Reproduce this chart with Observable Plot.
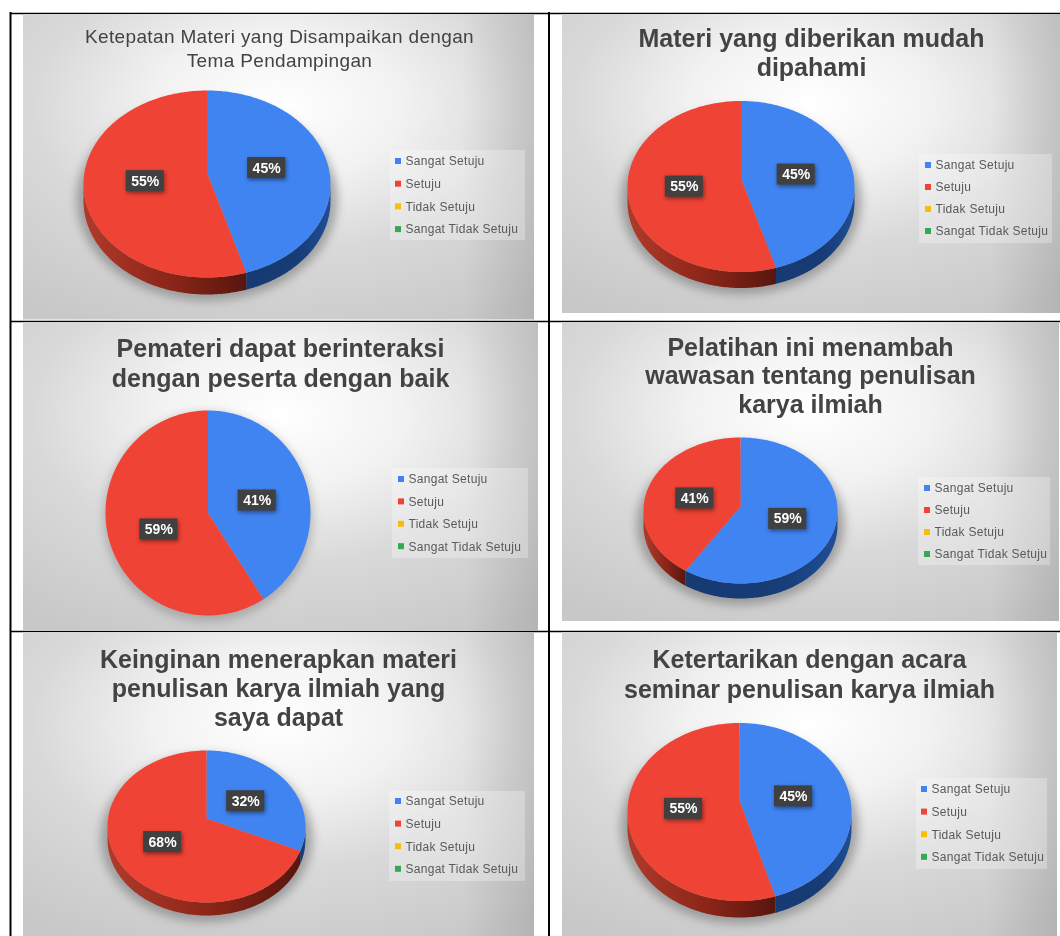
<!DOCTYPE html>
<html>
<head>
<meta charset="utf-8">
<script src="https://cdn.jsdelivr.net/npm/d3@7"></script>
<script src="https://cdn.jsdelivr.net/npm/@observablehq/plot@0.6"></script>
<style>
html,body{margin:0;padding:0;background:#fff}
svg{display:block}
</style>
</head>
<body>
<div id="chart"></div>
<script>
// ---- data ----
const seriesNames = ["Sangat Setuju", "Setuju", "Tidak Setuju", "Sangat Tidak Setuju"];
const titles = [
  "Ketepatan Materi yang Disampaikan dengan\nTema Pendampingan",
  "Materi yang diberikan mudah\ndipahami",
  "Pemateri dapat berinteraksi\ndengan peserta dengan baik",
  "Pelatihan ini menambah\nwawasan tentang penulisan\nkarya ilmiah",
  "Keinginan menerapkan materi\npenulisan karya ilmiah yang\nsaya dapat",
  "Ketertarikan dengan acara\nseminar penulisan karya ilmiah"
];
const sangatSetuju      = [45.45, 45.45, 40.9, 59.1, 31.8, 45.45];
const setuju            = [54.55, 54.55, 59.1, 40.9, 68.2, 54.55];
const tidakSetuju       = [0, 0, 0, 0, 0, 0];
const sangatTidakSetuju = [0, 0, 0, 0, 0, 0];
const seriesValues = [sangatSetuju, setuju, tidakSetuju, sangatTidakSetuju];

// ---- layout and style ----
const seriesColors = ["#4084f2", "#ef4335", "#fbbc04", "#34a853"];
const sideFills = ["url(#sideBlue)", "url(#sideRed)", "url(#sideYellow)", "url(#sideGreen)"];
const panelBoxes = [
  {x1: 23,  x2: 534,  y1: 14,  y2: 319.5},
  {x1: 562, x2: 1060, y1: 14,  y2: 313},
  {x1: 23,  x2: 538,  y1: 322, y2: 631},
  {x1: 562, x2: 1059, y1: 322, y2: 621},
  {x1: 23,  x2: 534,  y1: 632, y2: 936},
  {x1: 562, x2: 1057, y1: 632, y2: 936}
];
const pieLayout = [
  {cx: 206.5, cy: 183.5, rx: 123.5, ry: 93.5,  apexY: 172,   depth: 17},
  {cx: 740.5, cy: 186,   rx: 113.5, ry: 85.5,  apexY: 178,   depth: 16},
  {cx: 207.5, cy: 512.5, rx: 102.5, ry: 102.5, apexY: 512.5, depth: 0},
  {cx: 740,   cy: 510,   rx: 97,    ry: 73,    apexY: 506,   depth: 15},
  {cx: 206,   cy: 826,   rx: 99,    ry: 76,    apexY: 818,   depth: 13},
  {cx: 739,   cy: 811.5, rx: 112,   ry: 89,    apexY: 800,   depth: 16.5}
];
const titleLayout = [
  {x: 279, y0: 36,  step: 24,   size: 19, weight: 400, spacing: 0.35},
  {x: 811, y0: 38,  step: 29,   size: 25, weight: 700, spacing: 0},
  {x: 280, y0: 348, step: 30,   size: 25, weight: 700, spacing: 0},
  {x: 810, y0: 347, step: 28.5, size: 25, weight: 700, spacing: 0},
  {x: 278, y0: 659, step: 29,   size: 25, weight: 700, spacing: 0},
  {x: 809, y0: 659, step: 30,   size: 25, weight: 700, spacing: 0}
];
const legendLayout = [
  {x1: 390, x2: 525,  y1: 150, y2: 240, swatch: 395, text: 405, y0: 161, step: 22.7},
  {x1: 919, x2: 1052, y1: 154, y2: 243, swatch: 925, text: 935, y0: 165, step: 22},
  {x1: 392, x2: 528,  y1: 468, y2: 558, swatch: 398, text: 408, y0: 479, step: 22.4},
  {x1: 918, x2: 1050, y1: 477, y2: 565, swatch: 924, text: 934, y0: 488, step: 22},
  {x1: 389, x2: 525,  y1: 791, y2: 881, swatch: 395, text: 405, y0: 801, step: 22.6},
  {x1: 916, x2: 1047, y1: 778, y2: 869, swatch: 921, text: 931, y0: 789, step: 22.6}
];
const gridH = [{y: 13}, {y: 321}, {y: 631}];
const gridV = [{x: 10}, {x: 548.5}];

// ---- geometry derived from the values ----
const rad = Math.PI / 180;
const perspective = p => {
  const k = (p.cy - p.apexY) / p.ry;
  return Math.tan(Math.acos(k) / 2);
};
const toPhi = (deg, m) => {
  if (deg >= 360) return 360;
  if (deg > 180) return 360 - toPhi(360 - deg, m);
  if (deg === 180) return 180;
  return 2 * Math.atan(m * Math.tan(deg * rad / 2)) / rad;
};
const rimAt = (p, phi, drop = 0) => ({
  x: p.cx + p.rx * Math.sin(phi * rad),
  y: p.cy - p.ry * Math.cos(phi * rad) + drop
});

const faces = [], sides = [], shadows = [], labels = [];
pieLayout.forEach((p, pi) => {
  const m = perspective(p);
  const shadow = d3.range(0, 361, 3).map(a => ({
    panel: pi,
    opacity: p.depth ? 0.55 : 0.4,
    x: p.cx + (p.rx + (p.depth ? 7 : 2)) * Math.sin(a * rad),
    y: p.cy + (p.depth ? p.depth * 0.9 : 4) - (p.ry + (p.depth ? 8 : 2)) * Math.cos(a * rad)
  }));
  shadows.push(...shadow);
  let acc = 0;
  seriesNames.forEach((name, si) => {
    const value = seriesValues[si][pi];
    if (!value) return;
    const t0 = acc * 3.6, t1 = (acc + value) * 3.6;
    acc += value;
    const id = `${pi}-${si}`;
    faces.push({id, series: name, x: p.cx, y: p.apexY});
    d3.range(t0, t1, 1).concat(t1).forEach(t => {
      faces.push({id, series: name, ...rimAt(p, toPhi(t, m))});
    });
    const lo = Math.max(toPhi(t0, m), 90), hi = Math.min(toPhi(t1, m), 270);
    if (p.depth && hi > lo) {
      const arc = d3.range(lo, hi, 1).concat(hi);
      arc.forEach(a => sides.push({id, fill: sideFills[si], ...rimAt(p, a)}));
      arc.slice().reverse().forEach(a => sides.push({id, fill: sideFills[si], ...rimAt(p, a, p.depth)}));
    }
    const mid = rimAt(p, toPhi((t0 + t1) / 2, m));
    labels.push({
      text: `${Math.round(value)}%`,
      x: p.cx + (mid.x - p.cx) * 0.5,
      y: p.apexY + (mid.y - p.apexY) * 0.5 + 2
    });
  });
});

const titleRows = titles.flatMap((t, i) => t.split("\n").map((line, j) => ({
  line, panel: i, x: titleLayout[i].x, y: titleLayout[i].y0 + j * titleLayout[i].step
})));
const legendRows = legendLayout.flatMap((l, i) => seriesNames.map((name, j) => ({
  name, panel: i, swatch: l.swatch, text: l.text, y: l.y0 + j * l.step
})));

const spaced = px => (index, scales, values, dimensions, context, next) => {
  const g = next(index, scales, values, dimensions, context);
  g.style.letterSpacing = `${px}px`;
  return g;
};

const gradients = () => {
  const g = document.createElementNS("http://www.w3.org/2000/svg", "g");
  g.innerHTML = `<defs>
    <radialGradient id="panelBg" cx="0.5" cy="0.3" r="0.8">
      <stop offset="0" stop-color="#ffffff"/>
      <stop offset="0.3" stop-color="#f2f2f2"/>
      <stop offset="0.6" stop-color="#d9d9d9"/>
      <stop offset="1" stop-color="#c8c8c8"/>
    </radialGradient>
    <linearGradient id="panelEdge" x1="0" x2="1" y1="0" y2="0">
      <stop offset="0.86" stop-color="#000" stop-opacity="0"/>
      <stop offset="1" stop-color="#000" stop-opacity="0.1"/>
    </linearGradient>
    <linearGradient id="sideRed" x1="0" x2="1" y1="0" y2="0">
      <stop offset="0" stop-color="#b03a2a"/><stop offset="0.55" stop-color="#8a2518"/><stop offset="1" stop-color="#58160e"/>
    </linearGradient>
    <linearGradient id="sideBlue" x1="0" x2="1" y1="0" y2="0">
      <stop offset="0" stop-color="#163a72"/><stop offset="0.6" stop-color="#173c76"/><stop offset="1" stop-color="#1f4e96"/>
    </linearGradient>
    <linearGradient id="sideYellow"><stop offset="0" stop-color="#a87e02"/></linearGradient>
    <linearGradient id="sideGreen"><stop offset="0" stop-color="#226f37"/></linearGradient>
  </defs>`;
  return g;
};

const softText = "blur(0.3px)";

const chart = Plot.plot({
  width: 1060,
  height: 936,
  margin: 0,
  style: {fontFamily: "'Liberation Sans', Arial, sans-serif", background: "#fff"},
  x: {domain: [0, 1060], range: [0, 1060], axis: null},
  y: {domain: [0, 936], range: [0, 936], axis: null},
  color: {domain: seriesNames, range: seriesColors},
  marks: [
    gradients,
    Plot.ruleY(gridH, {y: "y", x1: 10, x2: 1060, stroke: "#000", strokeWidth: 1.6}),
    Plot.ruleX(gridV, {x: "x", y1: 12, y2: 936, stroke: "#000", strokeWidth: 2}),
    Plot.rect(panelBoxes, {x1: "x1", x2: "x2", y1: "y1", y2: "y2", fill: "url(#panelBg)"}),
    Plot.rect(panelBoxes, {x1: "x1", x2: "x2", y1: "y1", y2: "y2", fill: "url(#panelEdge)"}),
    Plot.line(shadows, {x: "x", y: "y", z: "panel", fill: "#6f6f6f", stroke: "none", fillOpacity: "opacity", imageFilter: "blur(5px)"}),
    Plot.line(sides, {x: "x", y: "y", z: "id", fill: {value: d => d.fill, scale: null}, stroke: "none"}),
    Plot.line(faces, {x: "x", y: "y", z: "id", fill: "series", stroke: "none"}),
    Plot.rect(labels, {
      x1: d => d.x - 19, x2: d => d.x + 19, y1: d => d.y - 10.5, y2: d => d.y + 10.5,
      fill: "#404040", imageFilter: "drop-shadow(1.5px 2px 2px rgba(0,0,0,0.45))"
    }),
    Plot.text(labels, {x: "x", y: "y", text: "text", fill: "#fff", fontSize: 14, fontWeight: 700, imageFilter: softText}),
    ...titleLayout.map((l, i) => Plot.text(titleRows.filter(r => r.panel === i), {
      x: "x", y: "y", text: "line", fill: "#434343", fontSize: l.size, fontWeight: l.weight,
      imageFilter: softText, render: spaced(l.spacing)
    })),
    Plot.rect(legendLayout, {x1: "x1", x2: "x2", y1: "y1", y2: "y2", fill: "#fff", fillOpacity: 0.28}),
    Plot.rect(legendRows, {
      x1: "swatch", x2: d => d.swatch + 6, y1: d => d.y - 3, y2: d => d.y + 3, fill: "name"
    }),
    Plot.text(legendRows, {
      x: "text", y: "y", text: "name", textAnchor: "start", fill: "#595959", fontSize: 12,
      imageFilter: softText, render: spaced(0.28)
    })
  ]
});
document.getElementById("chart").append(chart);
</script>
</body>
</html>
